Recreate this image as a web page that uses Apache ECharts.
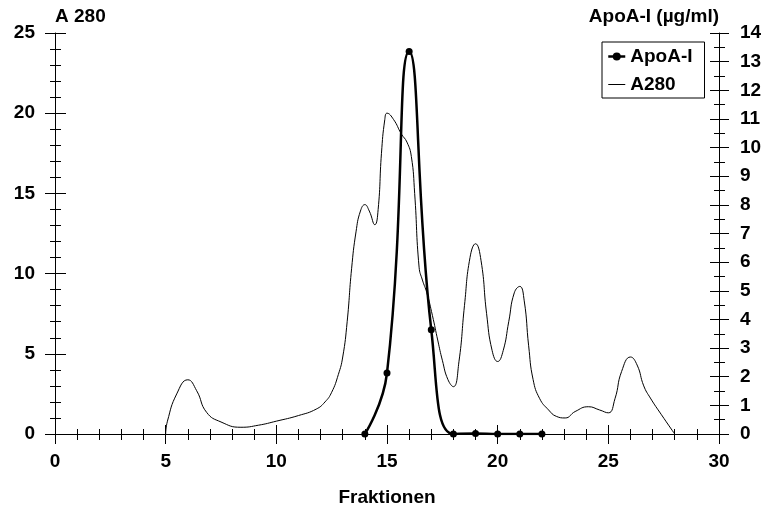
<!DOCTYPE html>
<html><head><meta charset="utf-8">
<script src="https://cdn.jsdelivr.net/npm/echarts@6/dist/echarts.min.js"></script>
<style>html,body{margin:0;padding:0;background:#fff}#c{width:763px;height:508px}</style>
</head><body><div id="c"></div>
<script>
// ApoA-I (µg/ml) measured per fraction
const apoFractions = [14, 15, 16, 17, 18, 19, 20, 21, 22];
const apoValues = [0, 2.13, 13.35, 3.64, 0, 0.02, 0, 0, 0];

// A280 absorbance trace (fraction, value)
const a280Fractions = [5.0, 5.08, 5.5, 6.0, 6.4, 6.85, 7.5, 8.4, 9.2, 10.0, 11.0, 11.8, 12.2, 12.5, 12.8, 13.0, 13.2, 13.4, 13.6, 13.8, 14.0, 14.2, 14.45, 14.6, 14.75, 14.9, 15.0, 15.3, 15.65, 15.9, 16.1, 16.25, 16.45, 16.6, 16.8, 17.05, 17.3, 17.5, 17.75, 18.0, 18.25, 18.5, 18.75, 19.0, 19.25, 19.5, 19.75, 20.0, 20.25, 20.5, 20.75, 21.0, 21.2, 21.4, 21.6, 21.9, 22.3, 22.65, 23.05, 23.5, 24.1, 24.6, 25.0, 25.3, 25.6, 26.0, 26.3, 26.6, 26.9, 27.4, 28.0];
const a280Values = [0, 0.8, 2.5, 3.38, 2.7, 1.35, 0.75, 0.42, 0.55, 0.8, 1.15, 1.55, 2.0, 2.6, 3.7, 4.8, 7.0, 10.3, 12.6, 13.9, 14.3, 13.9, 13.05, 14.0, 17.5, 19.6, 20.0, 19.6, 18.7, 18.2, 17.3, 15.0, 10.4, 9.6, 8.8, 7.4, 5.8, 4.6, 3.4, 2.95, 4.5, 8.0, 11.0, 11.86, 10.8, 7.5, 5.2, 4.52, 5.2, 7.0, 8.8, 9.2, 8.3, 5.5, 3.4, 2.2, 1.5, 1.1, 1.0, 1.4, 1.7, 1.5, 1.32, 2.2, 3.9, 4.8, 4.3, 3.0, 2.24, 1.2, 0];

// axis ranges / tick steps
const xRange = [0, 30], xStep = 5;
const leftRange = [0, 25], leftStep = 5;
const rightRange = [0, 14], rightStep = 1;

const names = { x: 'Fraktionen', left: 'A 280', right: 'ApoA-I (µg/ml)', apo: 'ApoA-I', a280: 'A280' };

const FONT = { fontFamily: '"Liberation Sans", Arial, Helvetica, sans-serif', fontWeight: 'bold', fontSize: 19, color: '#000' };
const BLACK = { color: '#000', width: 1 };

function axisBase(extra) {
  return Object.assign({
    type: 'value',
    splitLine: { show: false },
    minorSplitLine: { show: false },
  }, extra);
}

const chart = echarts.init(document.getElementById('c'), null, { renderer: 'canvas' });
chart.setOption({
  animation: false,
  backgroundColor: '#fff',
  grid: { left: 55, right: 44, top: 33, bottom: 74, containLabel: false, outerBoundsMode: 'none' },
  legend: {
    orient: 'vertical', left: 602, top: 42,
    borderColor: '#000', borderWidth: 1,
    padding: [5, 12, 4, 5], itemGap: 9, itemWidth: 17, itemHeight: 10,
    selectedMode: false,
    textStyle: FONT,
    data: [
      { name: names.apo, lineStyle: { width: 2.5, color: '#000' }, itemStyle: { color: '#000' } },
      { name: names.a280, lineStyle: { width: 1, color: '#000' }, itemStyle: { color: 'rgba(0,0,0,0)', borderColor: 'rgba(0,0,0,0)', borderWidth: 0 } }
    ]
  },
  xAxis: [
    axisBase({
      position: 'bottom', min: xRange[0], max: xRange[1], interval: xStep,
      axisLine: { onZero: false, lineStyle: BLACK },
      axisTick: { show: true, inside: false, length: 10, lineStyle: BLACK },
      minorTick: { show: true, splitNumber: 5, length: 6, lineStyle: BLACK },
      axisLabel: Object.assign({ margin: 18 }, FONT),
      name: names.x, nameLocation: 'middle', nameGap: 54, nameTextStyle: FONT
    }),
    axisBase({
      position: 'bottom', min: xRange[0], max: xRange[1], interval: xStep,
      axisLine: { show: false, onZero: false },
      axisTick: { show: true, inside: true, length: 9, lineStyle: BLACK },
      minorTick: { show: true, splitNumber: 5, length: 5, lineStyle: BLACK },
      axisLabel: { show: false }
    })
  ],
  yAxis: [
    axisBase({
      position: 'left', min: leftRange[0], max: leftRange[1], interval: leftStep,
      axisLine: { show: true, onZero: false, lineStyle: BLACK },
      axisTick: { show: true, inside: false, length: 10, lineStyle: BLACK },
      minorTick: { show: true, splitNumber: 5, length: 5, lineStyle: BLACK },
      axisLabel: Object.assign({ margin: 20 }, FONT),
      name: names.left, nameLocation: 'end', nameGap: 7,
      nameTextStyle: Object.assign({ align: 'left' }, FONT)
    }),
    axisBase({
      position: 'right', min: rightRange[0], max: rightRange[1], interval: rightStep,
      axisLine: { show: true, onZero: false, lineStyle: BLACK },
      axisTick: { show: true, inside: false, length: 10, lineStyle: BLACK },
      minorTick: { show: true, splitNumber: 2, length: 6, lineStyle: BLACK },
      axisLabel: Object.assign({ margin: 21 }, FONT),
      name: names.right, nameLocation: 'end', nameGap: 7,
      nameTextStyle: Object.assign({ align: 'right' }, FONT)
    }),
    axisBase({
      position: 'left', min: leftRange[0], max: leftRange[1], interval: leftStep,
      axisLine: { show: false, onZero: false },
      axisTick: { show: true, inside: true, length: 11, lineStyle: BLACK },
      minorTick: { show: true, splitNumber: 5, length: 6, lineStyle: BLACK },
      axisLabel: { show: false }
    }),
    axisBase({
      position: 'right', min: rightRange[0], max: rightRange[1], interval: rightStep,
      axisLine: { show: false, onZero: false },
      axisTick: { show: true, inside: true, length: 9, lineStyle: BLACK },
      minorTick: { show: true, splitNumber: 2, length: 5, lineStyle: BLACK },
      axisLabel: { show: false }
    })
  ],
  series: [
    {
      name: names.a280, type: 'line', xAxisIndex: 0, yAxisIndex: 0,
      data: a280Fractions.map((f, i) => [f, a280Values[i]]),
      smooth: 0.5, symbol: 'none', showSymbol: false,
      lineStyle: { color: '#000', width: 1 }, itemStyle: { color: '#000' },
      z: 2
    },
    {
      name: names.apo, type: 'line', xAxisIndex: 0, yAxisIndex: 1,
      data: apoFractions.map((f, i) => [f, apoValues[i]]),
      smooth: 0.5, symbol: 'circle', symbolSize: 7, showSymbol: true,
      lineStyle: { color: '#000', width: 2.5 }, itemStyle: { color: '#000' },
      z: 3
    }
  ]
});
</script>
</body></html>
